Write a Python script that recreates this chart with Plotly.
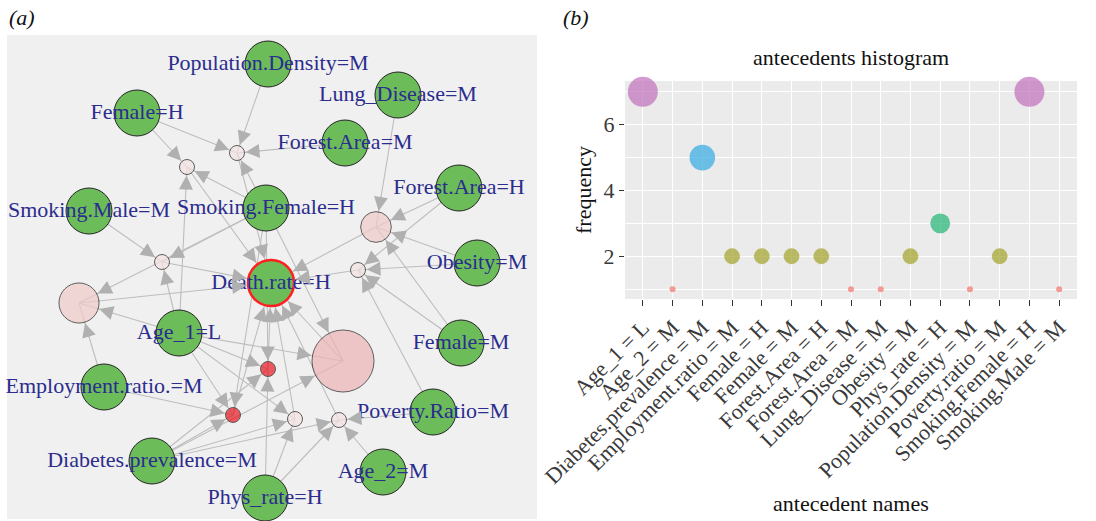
import numpy as np
import plotly.graph_objects as go

# ---------------- panel (b): antecedents histogram ----------------
antecedent_names = ["Age_1 = L", "Age_2 = M", "Diabetes.prevalence = M", "Employment.ratio = M",
                    "Female = H", "Female = M", "Forest.Area = H", "Forest.Area = M",
                    "Lung_Disease = M", "Obesity = M", "Phys_rate = H", "Population.Density = M",
                    "Poverty.ratio = M", "Smoking.Female = H", "Smoking.Male = M"]
antecedent_freq = [7, 1, 5, 2, 2, 2, 2, 1, 1, 2, 3, 1, 2, 7, 1]
y_ticks = [2, 4, 6]

# ---------------- panel (a): rule graph ----------------
item_labels = ["Population.Density=M", "Female=H", "Lung_Disease=M", "Forest.Area=M",
               "Smoking.Male=M", "Smoking.Female=H", "Forest.Area=H", "Obesity=M",
               "Death.rate=H", "Age_1=L", "Female=M", "Employment.ratio.=M",
               "Poverty.Ratio=M", "Diabetes.prevalence=M", "Age_2=M", "Phys_rate=H"]
item_layout_x = [268, 137, 398, 345, 89, 266, 459, 477, 271, 179, 461, 104, 433, 152, 383, 265]
item_layout_y = [64, 113, 95, 143, 211, 208, 188, 263, 283, 333, 343, 387, 412, 461, 472, 498]

rule_layout_x = [237, 187, 376, 162, 79, 358, 343, 268, 233, 295, 339]
rule_layout_y = [153, 167, 227, 262, 303, 270, 361, 369, 415, 419, 420]
rule_support = [0.04, 0.04, 0.09, 0.04, 0.12, 0.04, 0.19, 0.04, 0.04, 0.04, 0.04]
rule_lift = [1.2, 1.2, 1.32, 1.2, 1.32, 1.2, 1.44, 2.0, 2.0, 1.2, 1.2]
rule_lhs = [
    ["Population.Density=M", "Forest.Area=M", "Female=H", "Smoking.Female=H"],
    ["Female=H", "Age_1=L", "Smoking.Female=H"],
    ["Lung_Disease=M", "Forest.Area=H", "Obesity=M", "Female=M"],
    ["Smoking.Male=M", "Smoking.Female=H", "Age_1=L"],
    ["Smoking.Female=H", "Age_1=L", "Employment.ratio.=M"],
    ["Obesity=M", "Female=M", "Forest.Area=H", "Poverty.Ratio=M"],
    ["Smoking.Female=H", "Age_1=L", "Diabetes.prevalence=M"],
    ["Age_1=L", "Phys_rate=H", "Diabetes.prevalence=M", "Smoking.Female=H"],
    ["Age_1=L", "Employment.ratio.=M", "Diabetes.prevalence=M", "Smoking.Female=H"],
    ["Age_1=L", "Diabetes.prevalence=M", "Phys_rate=H"],
    ["Poverty.Ratio=M", "Age_2=M", "Phys_rate=H", "Diabetes.prevalence=M"],
]
rule_rhs = "Death.rate=H"

# ---------------- styling / page geometry ----------------
SERIF = "Liberation Serif"
FW, FH = 1096, 521
ITEM_SIZE = 46
EDGE_COLOR = "#BDBDBD"
HEAD_COLOR = "#B0B0B0"
LABEL_COLOR = "#2B2C8E"


def pxx(X):
    return X / FW


def pxy(Y):
    return 1 - Y / FH


def rule_size(s):
    return 15 + (s - 0.04) / (0.19 - 0.04) * (62 - 15)


def freq_size(v):
    lo, hi = min(antecedent_freq), max(antecedent_freq)
    return 6 + 24 * np.sqrt((v - lo) / (hi - lo))


freq_colors = {1: "#F2736B", 2: "#A2A22A", 3: "#21B573", 5: "#33A9E1", 7: "#BF6FBA"}

pos = {n: (x, y) for n, x, y in zip(item_labels, item_layout_x, item_layout_y)}
rule_sizes = [rule_size(s) for s in rule_support]

fig = go.Figure()

# edges (lines under nodes) + arrowheads
ex, ey = [], []
annotations = []


def add_edge(p0, p1, r1):
    ex.extend([p0[0], p1[0], None])
    ey.extend([p0[1], p1[1], None])
    d = np.array([p1[0] - p0[0], p1[1] - p0[1]], dtype=float)
    u = d / np.linalg.norm(d)
    tip = np.array(p1, dtype=float) - u * (r1 + 1)
    tail = tip - u * 16
    annotations.append(dict(x=tip[0], y=tip[1], ax=tail[0], ay=tail[1], xref="x", yref="y",
                            axref="x", ayref="y", showarrow=True, text="", arrowhead=2,
                            arrowsize=2.8, arrowwidth=1, arrowcolor=HEAD_COLOR, standoff=0))


for i, lhs in enumerate(rule_lhs):
    rp = (rule_layout_x[i], rule_layout_y[i])
    for it in lhs:
        add_edge(pos[it], rp, rule_sizes[i] / 2)
    add_edge(rp, pos[rule_rhs], ITEM_SIZE / 2 + 1)

fig.add_trace(go.Scatter(x=ex, y=ey, mode="lines", line=dict(color=EDGE_COLOR, width=1.1),
                         hoverinfo="skip", showlegend=False, xaxis="x", yaxis="y",
                         cliponaxis=False))

# rule nodes
fig.add_trace(go.Scatter(
    x=rule_layout_x, y=rule_layout_y, mode="markers", showlegend=False, xaxis="x", yaxis="y",
    cliponaxis=False,
    marker=dict(size=rule_sizes, color=rule_lift, cmin=1.2, cmax=2.0,
                colorscale=[[0, "#F4E3E3"], [0.15, "#F1CACA"], [0.3, "#EDB4B5"], [1, "#E8171E"]],
                line=dict(color="#222222", width=1))))

# item nodes
line_colors = ["#FF1F1F" if n == rule_rhs else "#222222" for n in item_labels]
line_widths = [2.5 if n == rule_rhs else 1 for n in item_labels]
fig.add_trace(go.Scatter(
    x=item_layout_x, y=item_layout_y, mode="markers+text", text=item_labels,
    textposition="middle center", showlegend=False, xaxis="x", yaxis="y", cliponaxis=False,
    textfont=dict(family=SERIF, size=22, color=LABEL_COLOR),
    marker=dict(size=ITEM_SIZE, color="#6CBD5A", line=dict(color=line_colors, width=line_widths))))

# panel (b) points
fig.add_trace(go.Scatter(
    x=antecedent_names, y=antecedent_freq, mode="markers", showlegend=False,
    xaxis="x2", yaxis="y2", cliponaxis=False,
    marker=dict(size=[freq_size(v) for v in antecedent_freq],
                color=[freq_colors[v] for v in antecedent_freq], line=dict(width=0))))

# text annotations
TXT = dict(xref="paper", yref="paper", showarrow=False,
           font=dict(family=SERIF, size=22, color="#111111"))
annotations += [
    dict(text="<i>(a)</i>", x=pxx(7), y=pxy(17), xanchor="left", yanchor="middle", **TXT),
    dict(text="<i>(b)</i>", x=pxx(561), y=pxy(17), xanchor="left", yanchor="middle", **TXT),
    dict(text="antecedents histogram", x=pxx(851), y=pxy(57), xanchor="center",
         yanchor="middle", **TXT),
    dict(text="frequency", x=pxx(583), y=pxy(190), textangle=-90, xanchor="center",
         yanchor="middle", **TXT),
    dict(text="antecedent names", x=pxx(851), y=pxy(503), xanchor="center",
         yanchor="middle", **TXT),
]

shapes = [dict(type="rect", xref="paper", yref="paper", x0=pxx(7), x1=pxx(537),
               y0=pxy(519), y1=pxy(35), fillcolor="#F0F0F0", line=dict(width=0),
               layer="below")]

fig.update_layout(
    template="none",
    width=FW, height=FH, autosize=False,
    margin=dict(l=0, r=0, t=0, b=0, pad=0, autoexpand=False),
    paper_bgcolor="white", plot_bgcolor="#EBEBEB",
    annotations=annotations, shapes=shapes, hovermode=False,
    xaxis=dict(domain=[pxx(7), pxx(537)], range=[7, 537], visible=False, showgrid=False,
               zeroline=False, automargin=False),
    yaxis=dict(domain=[pxy(519), pxy(35)], range=[519, 35], visible=False,
               showgrid=False, zeroline=False, automargin=False),
    xaxis2=dict(domain=[pxx(625), pxx(1077)], anchor="y2", type="category", automargin=False,
                categoryorder="array", categoryarray=antecedent_names, range=[-0.6, 14.6],
                showgrid=True, gridcolor="white", gridwidth=1.3, zeroline=False,
                ticks="outside", ticklen=6, tickwidth=1.1, tickcolor="#333333",
                tickangle=-45, tickfont=dict(family=SERIF, size=22, color="#3A3A3A"),
                showline=False),
    yaxis2=dict(domain=[pxy(299), pxy(81)], anchor="x2", range=[0.7, 7.33],
                automargin=False,
                tickvals=y_ticks, showgrid=True, gridcolor="white", gridwidth=1.3,
                zeroline=False, ticks="outside", ticklen=5, tickwidth=1.1,
                tickcolor="#333333", tickfont=dict(family=SERIF, size=22, color="#3A3A3A"),
                showline=False,
                minor=dict(tickvals=[1, 3, 5, 7], showgrid=True, gridcolor="white",
                           gridwidth=0.6, ticks="")),
)

fig.write_html("out.html", config={"displayModeBar": False},
               post_script="document.body.style.margin='0px';")
